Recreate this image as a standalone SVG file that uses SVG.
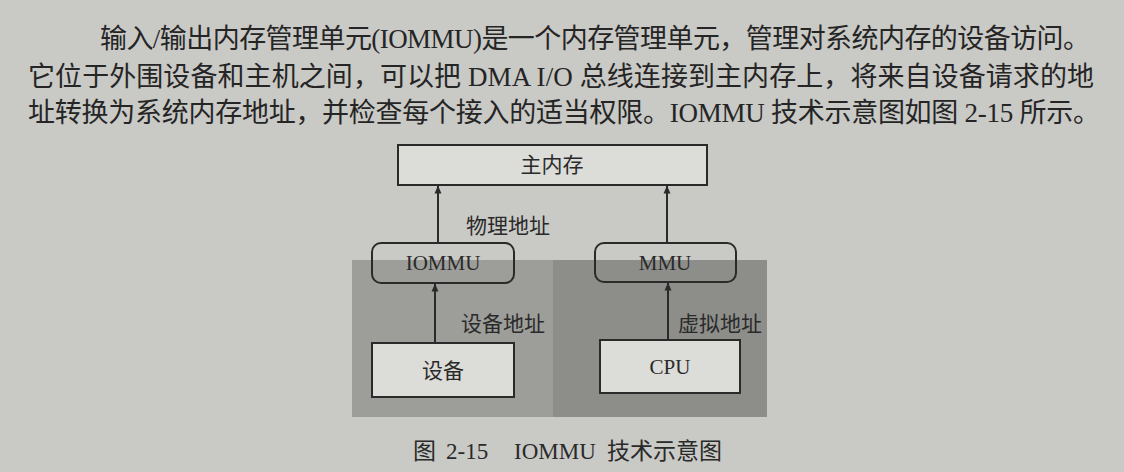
<svg xmlns="http://www.w3.org/2000/svg" width="1124" height="472" viewBox="0 0 1124 472">
<style>
.para{font-family:"Liberation Serif","Noto Sans CJK SC",serif;font-size:27px;fill:#252525}
.lbl{font-family:"Liberation Serif","Noto Sans CJK SC",serif;font-size:21px;fill:#2a2a2a;text-anchor:middle}
.box{fill:#dcdcd8;stroke:#2a2a2a;stroke-width:2}
.rbox{fill:none;stroke:#2a2a2a;stroke-width:2}
.conn{stroke:#2a2a2a;stroke-width:2;fill:none;marker-end:url(#arr)}
</style>
<defs>
<marker id="arr" viewBox="0 0 8 16" refX="7.5" refY="8" markerWidth="8" markerHeight="16" markerUnits="userSpaceOnUse" orient="auto">
<path d="M0,4.5 L8,8 L0,11.5 Z" fill="#2a2a2a"/>
</marker>
</defs>
<rect width="1124" height="472" fill="#c9c9c5"/>
<g id="paragraph">
<text class="para" x="100" y="48" textLength="990" lengthAdjust="spacing">输入/输出内存管理单元(IOMMU)是一个内存管理单元，管理对系统内存的设备访问。</text>
<text class="para" x="28" y="86" textLength="1066" lengthAdjust="spacing">它位于外围设备和主机之间，可以把 DMA I/O 总线连接到主内存上，将来自设备请求的地</text>
<text class="para" x="28" y="122" textLength="1072" lengthAdjust="spacing">址转换为系统内存地址，并检查每个接入的适当权限。IOMMU 技术示意图如图 2-15 所示。</text>
</g>
<g id="shading">
<rect x="352" y="260" width="201" height="157" fill="#9d9d99"/>
<rect x="553" y="260" width="214" height="157" fill="#8d8d89"/>
</g>
<g id="main-memory">
<rect class="box" x="398" y="145" width="309" height="40"/>
<text class="lbl" x="552" y="172">主内存</text>
</g>
<g id="iommu">
<rect class="rbox" x="372" y="243" width="142" height="40" rx="9"/>
<text class="lbl" x="443" y="270">IOMMU</text>
</g>
<g id="mmu">
<rect class="rbox" x="595" y="243" width="141" height="39" rx="9"/>
<text class="lbl" x="665" y="270">MMU</text>
</g>
<g id="device">
<rect class="box" x="372" y="343" width="142" height="54"/>
<text class="lbl" x="443" y="378">设备</text>
</g>
<g id="cpu">
<rect class="box" x="600" y="340" width="140" height="53"/>
<text class="lbl" x="670" y="374">CPU</text>
</g>
<g id="connectors">
<line class="conn" x1="438" y1="243" x2="438" y2="186"/>
<line class="conn" x1="667" y1="243" x2="667" y2="186"/>
<line class="conn" x1="435" y1="343" x2="435" y2="284"/>
<line class="conn" x1="668" y1="340" x2="668" y2="283"/>
<text class="lbl" x="508" y="233">物理地址</text>
<text class="lbl" x="503" y="331">设备地址</text>
<text class="lbl" x="720" y="331">虚拟地址</text>
</g>
<g id="caption">
<text y="459" font-family="Liberation Serif,Noto Sans CJK SC,serif" font-size="23" fill="#2a2a2a"><tspan x="413">图</tspan><tspan x="446">2-15</tspan><tspan x="514">IOMMU</tspan><tspan x="607">技术示意图</tspan></text>
</g>
</svg>
